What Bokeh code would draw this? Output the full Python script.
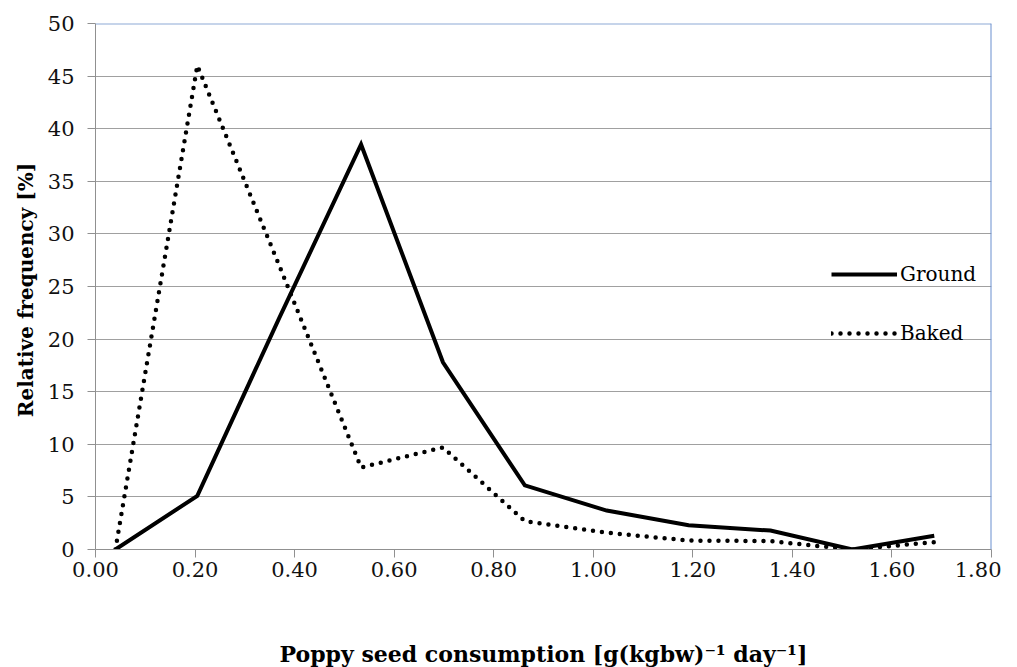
from bokeh.plotting import figure
from bokeh.models import Legend, LegendItem, FixedTicker, Range1d, Span
from bokeh.embed import file_html
from bokeh.resources import INLINE

# ---- data ----
consumption = [0.04, 0.2045, 0.369, 0.5335, 0.698, 0.8625, 1.027, 1.1915, 1.356, 1.5205, 1.685]
ground = [0.0, 5.1, 22.0, 38.5, 17.8, 6.1, 3.7, 2.3, 1.8, 0.0, 1.3]
baked = [0.0, 46.0, 27.0, 7.8, 9.7, 2.7, 1.6, 0.85, 0.8, 0.0, 0.7]
x_ticks = [0.0, 0.2, 0.4, 0.6, 0.8, 1.0, 1.2, 1.4, 1.6, 1.8]
y_ticks = [0, 5, 10, 15, 20, 25, 30, 35, 40, 45, 50]

SERIF = "DejaVu Serif"

p = figure(width=1001, height=660, output_backend="svg", toolbar_location=None,
           x_range=Range1d(0, 1.8), y_range=Range1d(0, 50),
           min_border_left=95, min_border_right=10, min_border_top=23, min_border_bottom=111)
p.frame_width = 896
p.frame_height = 526

p.outline_line_color = None
p.background_fill_color = "white"
p.border_fill_color = "white"

# grid
p.xgrid.grid_line_color = None
p.ygrid.ticker = FixedTicker(ticks=y_ticks)
p.ygrid.grid_line_color = "#a0a0a0"
p.ygrid.grid_line_width = 1

# axes
for ax in (p.xaxis[0], p.yaxis[0]):
    ax.axis_line_color = "#909090"
    ax.major_tick_line_color = "#909090"
    ax.major_tick_in = 0
    ax.major_tick_out = 8
    ax.minor_tick_line_color = None
    ax.major_label_text_font = SERIF
    ax.major_label_text_font_size = "21px"
    ax.major_label_text_color = "#111111"

p.xaxis[0].ticker = FixedTicker(ticks=x_ticks)
p.xaxis[0].major_label_overrides = {t: f"{t:.2f}" for t in x_ticks}
p.xaxis[0].major_label_standoff = 4
p.xaxis[0].axis_label = "Poppy seed consumption [g(kgbw)\u207b\u00b9 day\u207b\u00b9]"
p.xaxis[0].axis_label_text_font = SERIF
p.xaxis[0].axis_label_text_font_style = "bold"
p.xaxis[0].axis_label_text_font_size = "22px"
p.xaxis[0].axis_label_text_color = "#000000"
p.xaxis[0].axis_label_standoff = 61

p.yaxis[0].ticker = FixedTicker(ticks=y_ticks)
p.yaxis[0].major_label_standoff = 13
p.yaxis[0].axis_label = "Relative frequency  [%]"
p.yaxis[0].axis_label_text_font = SERIF
p.yaxis[0].axis_label_text_font_style = "bold"
p.yaxis[0].axis_label_text_font_size = "20px"
p.yaxis[0].axis_label_text_color = "#000000"
p.yaxis[0].axis_label_standoff = 7

# top and right borders of the plot area
p.add_layout(Span(location=50, dimension="width", line_color="#8eaad6", line_width=2))
p.add_layout(Span(location=1.8, dimension="height", line_color="#6a8fd0", line_width=2))

# series
r_ground = p.line(consumption, ground, line_color="black", line_width=4, line_join="miter")
r_baked = p.line(consumption, baked, line_color="black", line_width=4.5,
                 line_dash="0 9", line_cap="round")

legend = Legend(items=[LegendItem(label="Ground", renderers=[r_ground]),
                       LegendItem(label="Baked", renderers=[r_baked])],
                location=(736, 204), orientation="vertical",
                glyph_width=66, glyph_height=24, label_height=24, spacing=35,
                label_standoff=3, padding=0, margin=0,
                background_fill_alpha=0, border_line_alpha=0,
                label_text_font=SERIF, label_text_font_size="20px", label_text_color="#000000")
p.add_layout(legend)

open("out.html", "w").write(file_html(p, INLINE))
